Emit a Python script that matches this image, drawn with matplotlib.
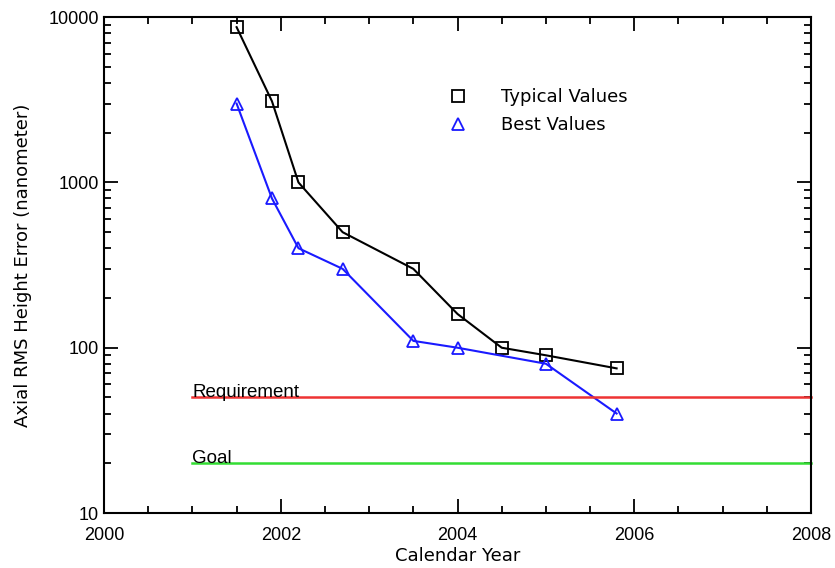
import matplotlib.pyplot as plt
from matplotlib.ticker import FixedLocator, LogLocator, NullFormatter, MultipleLocator

plt.rcParams['font.family'] = ['Liberation Sans', 'DejaVu Sans']

# Measured RMS height error per year
typ_year = [2001.5, 2001.9, 2002.2, 2002.7, 2003.5, 2004.0, 2004.5, 2005.0, 2005.8]
typ_err = [8700, 3100, 1000, 500, 300, 160, 100, 90, 75]
best_year = [2001.5, 2001.9, 2002.2, 2002.7, 2003.5, 2004.0, 2005.0, 2005.8]
best_err = [3000, 800, 400, 300, 110, 100, 80, 40]

# Spec levels
req_level = 50
goal_level = 20
spec_start = 2001.0
spec_end = 2008.0

label_font = dict(family='DejaVu Sans', fontsize=13)

fig = plt.figure(figsize=(8.35, 5.68), dpi=100)
ax = fig.add_axes([0.1246, 0.0968, 0.8467, 0.873])

ax.plot(typ_year, typ_err, color='black', linewidth=1.5, marker='s', markersize=9,
        markerfacecolor='none', markeredgecolor='black', markeredgewidth=1.3,
        label='Typical Values')
ax.plot(best_year, best_err, color='#1a1aff', linewidth=1.5, marker='^', markersize=9,
        markerfacecolor='none', markeredgecolor='#1a1aff', markeredgewidth=1.3,
        label='Best Values')

ax.plot([spec_start, spec_end], [req_level, req_level], color='#ee3333', linewidth=1.8,
        clip_on=False)
ax.plot([spec_start, spec_end], [goal_level, goal_level], color='#33dd33', linewidth=1.8,
        clip_on=False)
ax.text(spec_start, req_level, 'Requirement', fontsize=13.5, ha='left', va='baseline')
ax.text(spec_start, goal_level, 'Goal', fontsize=13.5, ha='left', va='baseline')

ax.set_yscale('log')
ax.set_xlim(2000, 2008)
ax.set_ylim(10, 10000)

ax.xaxis.set_major_locator(MultipleLocator(2))
ax.xaxis.set_minor_locator(MultipleLocator(0.5))
ax.yaxis.set_major_locator(FixedLocator([10, 100, 1000, 10000]))
ax.yaxis.set_minor_locator(LogLocator(base=10, subs=range(2, 10)))
ax.yaxis.set_minor_formatter(NullFormatter())
ax.set_yticklabels(['10', '100', '1000', '10000'])

ax.tick_params(which='both', direction='in', top=True, right=True, labelsize=13, width=1.3)
ax.tick_params(which='major', length=10)
ax.tick_params(which='minor', length=5)
ax.tick_params(axis='x', pad=10)
for s in ax.spines.values():
    s.set_linewidth(1.5)

ax.set_xlabel('Calendar Year', labelpad=2, **label_font)
ax.set_ylabel('Axial RMS Height Error (nanometer)', labelpad=12, **label_font)

leg = ax.legend(loc='center left', bbox_to_anchor=(0.462, 0.81), frameon=False,
                prop={'family': 'DejaVu Sans', 'size': 13},
                handlelength=1.2, handletextpad=1.8, labelspacing=0.55)
for line in leg.get_lines():
    line.set_linestyle('none')

fig.savefig('out.png', dpi=100)
